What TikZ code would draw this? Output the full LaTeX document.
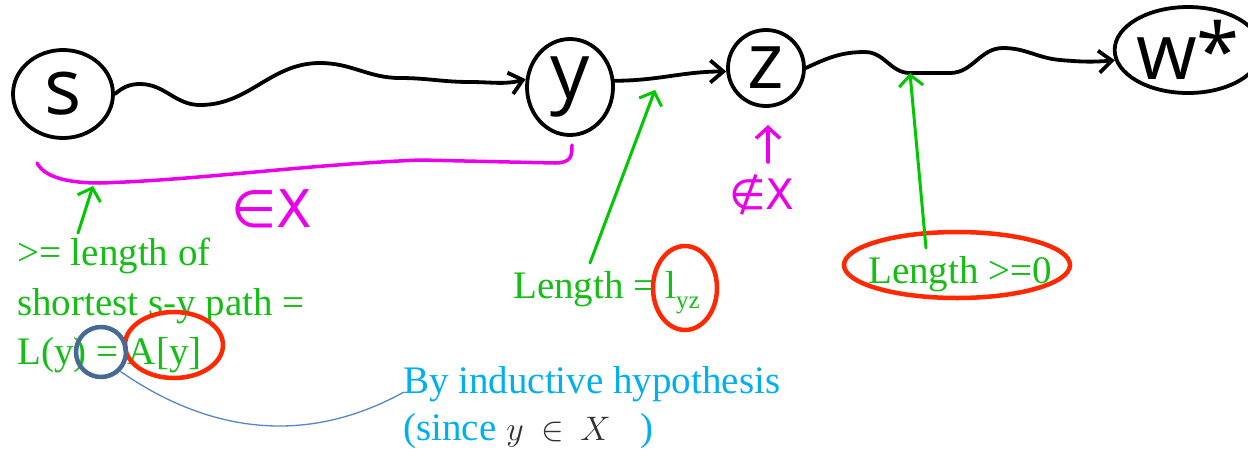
\RequirePackage{fix-cm}
\documentclass[tikz,border=0pt]{standalone}
\usepackage{fontspec}
\setmainfont{Liberation Serif}
\newfontfamily\hand{Open Sans}
\newfontfamily\symf{DejaVu Sans}
\usetikzlibrary{arrows.meta,shapes.geometric}
\definecolor{pgreen}{RGB}{0,200,0}
\definecolor{tgreen}{RGB}{20,190,20}
\definecolor{pmag}{RGB}{235,0,235}
\definecolor{pred}{RGB}{255,40,0}
\definecolor{tblue}{RGB}{0,175,240}
\definecolor{cblue}{RGB}{70,105,150}
\definecolor{lblue}{RGB}{85,135,200}
\definecolor{mgray}{RGB}{50,50,50}
\tikzset{
  ink/.style={line width=3.8pt, line cap=round, line join=round, black},
  inktip/.style={-{Straight Barb[length=13pt,width=22pt,line width=3.8pt]}},
  vert/.style={ellipse, draw, line width=3.8pt, inner sep=0pt, font=\hand\fontsize{78}{78}\selectfont},
  garrow/.style={line width=3pt, pgreen, line cap=round, -{Straight Barb[length=11pt,width=24pt,line width=3pt]}},
  marrow/.style={line width=3.5pt, pmag, line cap=round, -{Straight Barb[length=11pt,width=24pt,line width=3.5pt]}},
  pm/.style={line width=3.5pt, pmag, line cap=round},
  gtext/.style={anchor=base west, inner sep=0pt, text=tgreen, font=\fontsize{39}{50}\selectfont},
  btext/.style={anchor=base west, inner sep=0pt, text=tblue, font=\fontsize{39}{50}\selectfont},
  redov/.style={ellipse, draw=pred, line width=4.5pt, inner sep=0pt},
  mtext/.style={inner sep=0pt, text=pmag, font=\symf\fontsize{52}{52}\selectfont}
}
\begin{document}
\begin{tikzpicture}[x=1pt,y=-1pt]
\useasboundingbox[fill=white] (0,0) rectangle (1248,451);

% vertices
\node[vert, minimum width=100pt, minimum height=88pt] (s) at (63,94) {s};
\node[vert, minimum width=86pt, minimum height=96pt] (y) at (570,87) {y};
\node[vert, minimum width=76pt, minimum height=76pt] (z) at (766,68) {z};
\node[vert, minimum width=118pt, minimum height=86pt] (w) at (1188,50) {w*};

% wavy paths
\draw[ink, inktip] (s.east) to[out=40,in=180] (140,84) to[out=0,in=180] (200,105)
  to[out=0,in=180] (320,63) to[out=0,in=180] (400,78) to[out=0,in=180] (470,82)
  to[out=0,in=195] (y.170);
\draw[ink, inktip] (y.8) to[out=0,in=180] (z.185);
\draw[ink, inktip] (z.east) to[out=25,in=180] (865,52) to[out=0,in=180] (910,73)
  -- (950,73) to[out=0,in=180] (1003,48) to[out=0,in=175] (1060,60)
  to[out=-5,in=185] (w.188);

% magenta bracket and labels
\draw[pm] (37,163) .. controls (45,178) and (70,183) .. (100,183)
  .. controls (200,180) and (300,165) .. (420,160) -- (555,163)
  .. controls (572,163) and (572,155) .. (572,145);
\node[mtext] (inx) at (272,209) {∈X};
\coordinate (ma1) at (768,162);
\coordinate (ma2) at (768,125);
\draw[marrow] (ma1) -- (ma2);
\node[mtext, font=\symf\fontsize{42}{42}\selectfont] (ninx) at (762,195) {∉X};

% texts
\node[gtext] (l1) at (17,265) {>= length of};
\node[gtext] (l2) at (17,315) {shortest s-y path =};
\node[gtext] (l3) at (17,364) {L(y) = A[y]};
\node[gtext] (mid) at (513,298) {Length = l\raisebox{-10pt}{\fontsize{25}{25}\selectfont yz}};
\node[gtext] (rt) at (868,283) {Length >=0};
\node[btext] (b1) at (403,393) {By inductive hypothesis};
\node[btext] (b2) at (403,440) {(since\hspace{10pt}{\color{mgray}\fontsize{34}{34}\selectfont$y$\hspace{18pt}$\in$\hspace{16pt}$X$}\hspace{30pt})};

% red ovals
\node[redov, minimum width=98pt, minimum height=66pt] (ova) at (174,345) {};
\node[redov, minimum width=64pt, minimum height=84pt] (ovl) at (685,288) {};
\node[redov, minimum width=226pt, minimum height=66pt] (ovr) at (957,265) {};

% blue circle and connector
\node[circle, draw=cblue, line width=4.5pt, minimum size=50pt, inner sep=0pt] (bc) at (101,352) {};
\coordinate (bend) at (404,392);
\draw[lblue, line width=1.3pt] (bc.-45) .. controls (190,420) and (290,455) .. (bend);

% green arrows
\coordinate (g1t) at (78,233);
\coordinate (g1h) at (93,186);
\draw[garrow] (g1t) -- (g1h);
\coordinate (g2t) at (590,263);
\coordinate (g2h) at (655,90);
\draw[garrow] (g2t) -- (g2h);
\coordinate (g3t) at (926,248);
\coordinate (g3h) at (910,73);
\draw[garrow] (g3t) -- (g3h);
\end{tikzpicture}
\end{document}
